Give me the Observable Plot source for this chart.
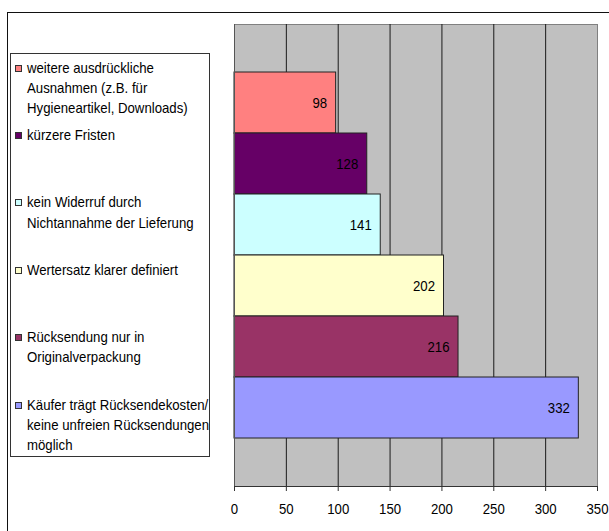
<!DOCTYPE html>
<html>
<head>
<meta charset="utf-8">
<script src="https://cdn.jsdelivr.net/npm/d3@7"></script>
<script src="https://cdn.jsdelivr.net/npm/@observablehq/plot@0.6"></script>
<style>
  html, body { margin: 0; padding: 0; background: #fff; overflow: hidden; }
  body { width: 609px; height: 531px; position: relative; font-family: "Liberation Sans", Arial, sans-serif; }
  #frame { position: absolute; left: 7px; top: 12px; width: 700px; height: 600px;
           border-left: 1px solid #111; border-top: 1px solid #111; }
  #chart { position: absolute; left: 0; top: 0; }
  #legend { position: absolute; left: 10px; top: 53px; width: 198px; height: 402px;
            border: 1px solid #333; background: #fff; }
  .entry { position: absolute; left: 0; width: 230px; }
  .swatch { position: absolute; left: 4px; top: 7px; width: 5px; height: 5px; border: 1px solid #333; }
  .label { position: absolute; left: 16px; top: 0; font-size: 15px; line-height: 20.3px;
           white-space: pre; color: #000; transform: scaleX(0.88); transform-origin: 0 0; }
</style>
</head>
<body>
<div id="frame"></div>
<div id="chart"></div>
<div id="legend"></div>
<script>
// Reasons named by respondents, top to bottom
const categories = [
  "weitere ausdrückliche\nAusnahmen (z.B. für\nHygieneartikel, Downloads)",
  "kürzere Fristen",
  "kein Widerruf durch\nNichtannahme der Lieferung",
  "Wertersatz klarer definiert",
  "Rücksendung nur in\nOriginalverpackung",
  "Käufer trägt Rücksendekosten/\nkeine unfreien Rücksendungen\nmöglich"
];
const values = [98, 128, 141, 202, 216, 332];
const colors = ["#FF8080", "#660066", "#CCFFFF", "#FFFFCC", "#993366", "#9999FF"];
const xTicks = [0, 50, 100, 150, 200, 250, 300, 350];

const data = categories.map((c, i) => ({category: c, value: values[i]}));

const chart = Plot.plot({
  width: 609,
  height: 531,
  marginLeft: 234,
  marginRight: 12,
  marginTop: 24,
  marginBottom: 45,
  style: {background: "transparent", fontFamily: "Liberation Sans, Arial, sans-serif", fontSize: "15px", color: "#000"},
  x: {domain: [0, 350], ticks: xTicks},
  y: {domain: categories, paddingInner: 0, paddingOuter: 0.77, axis: null},
  color: {domain: categories, range: colors},
  marks: [
    Plot.frame({fill: "#C0C0C0", stroke: "#808080"}),
    Plot.gridX(xTicks.filter(t => t > 0 && t < 350), {stroke: "#1a1a1a", strokeOpacity: 1}),
    Plot.barX(data, {y: "category", x: "value", fill: "category", stroke: "#222", strokeWidth: 1}),
    Plot.text(data, {y: "category", x: "value", text: d => String(d.value),
                     textAnchor: "end", dx: -9, fill: "#000", fontSize: 15}),
    Plot.frame({anchor: "left", stroke: "#555"}),
    Plot.frame({anchor: "bottom", stroke: "#333"}),
    Plot.axisX({ticks: xTicks, tickSize: 5, tickPadding: 12, stroke: "#333",
                fill: "#000", fontSize: 15, label: null, tickFormat: d => String(d)})
  ]
});

// Narrow the glyphs horizontally around each text's anchor point
chart.querySelectorAll("text").forEach(t => {
  const tr = t.getAttribute("transform") || "";
  t.setAttribute("transform", `${tr} scale(0.88,1)`);
});
document.getElementById("chart").appendChild(chart);

// Legend entries, same order and colours as the bars
const legend = document.getElementById("legend");
categories.forEach((c, i) => {
  const e = document.createElement("div");
  e.className = "entry";
  e.style.top = (3.5 + 67.4 * i) + "px";
  const s = document.createElement("div");
  s.className = "swatch";
  s.style.background = colors[i];
  const l = document.createElement("div");
  l.className = "label";
  l.textContent = c;
  e.appendChild(s); e.appendChild(l);
  legend.appendChild(e);
});
</script>
</body>
</html>
